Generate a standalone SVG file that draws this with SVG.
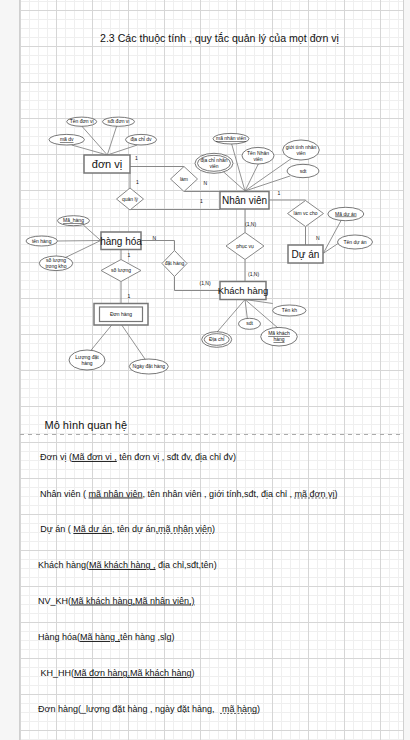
<svg xmlns="http://www.w3.org/2000/svg" width="410" height="740" viewBox="0 0 410 740">
<defs>
<pattern id="grid" patternUnits="userSpaceOnUse" x="20" y="10" width="36" height="36">
<rect x="0" y="0" width="36" height="36" fill="#ffffff"/>
<rect x="9" y="0" width="1" height="36" fill="#efefef"/>
<rect x="18" y="0" width="1" height="36" fill="#efefef"/>
<rect x="27" y="0" width="1" height="36" fill="#efefef"/>
<rect x="0" y="9" width="36" height="1" fill="#efefef"/>
<rect x="0" y="18" width="36" height="1" fill="#efefef"/>
<rect x="0" y="27" width="36" height="1" fill="#efefef"/>
<rect x="0" y="0" width="1" height="36" fill="#d6d6d6"/>
<rect x="0" y="0" width="36" height="1" fill="#d6d6d6"/>
</pattern>
<style>
text{font-family:"Liberation Sans",Arial,sans-serif;fill:#111}
.ent{fill:#fff;stroke:#777;stroke-width:1.5}
.rel{fill:#fff;stroke:#888;stroke-width:1}
.att{fill:#fff;stroke:#555;stroke-width:0.8}
.ln{fill:none;stroke:#888;stroke-width:1}
.al{fill:none;stroke:#777;stroke-width:0.8}
.et{font-size:10px;text-anchor:middle}
.st{font-size:5px;text-anchor:middle}
.ct{font-size:5px}
.rt{font-size:9px}
.u{text-decoration:underline}
.dl{stroke:#444;stroke-width:0.8;stroke-dasharray:2 1.5}
</style>
</defs>
<rect x="0" y="0" width="410" height="740" fill="#f6f6f6"/>
<rect x="20" y="0" width="383" height="740" fill="url(#grid)"/>
<line x1="19.5" y1="0" x2="19.5" y2="740" stroke="#d0d0d0"/>
<line x1="403.5" y1="0" x2="403.5" y2="740" stroke="#d0d0d0"/>

<text x="100" y="42" style="font-size:10.6px">2.3 Các thuộc tính , quy tắc quản lý của mọt đơn vị</text>

<g id="connectors">
<polyline class="ln" points="130,166.5 184,166.5"/>
<polyline class="ln" points="184,191.5 220,191.5"/>
<polyline class="ln" points="130,173 130,188"/>
<polyline class="ln" points="130,210 130,209.5 220,209.5"/>
<polyline class="ln" points="141,240.5 174.5,240.5 174.5,250.5"/>
<polyline class="ln" points="174.5,276.5 174.5,290.5 220,290.5"/>
<polyline class="ln" points="121,249.5 121,259.5"/>
<polyline class="ln" points="121,281.5 121,303.5"/>
<polyline class="ln" points="269,200 305.5,200 305.5,200.5"/>
<polyline class="ln" points="305.5,226.5 305.5,245"/>
<polyline class="ln" points="245,209 245,232.5"/>
<polyline class="ln" points="245,259.5 245,281.5"/>
<line class="al" x1="81.7" y1="126" x2="107.3" y2="155"/>
<line class="al" x1="116.7" y1="126" x2="107.3" y2="155"/>
<line class="al" x1="71.7" y1="145" x2="107.3" y2="155"/>
<line class="al" x1="137.3" y1="145" x2="107.3" y2="155"/>
<line class="al" x1="231.7" y1="144" x2="245" y2="191"/>
<line class="al" x1="258.3" y1="164" x2="245" y2="191"/>
<line class="al" x1="291.7" y1="158.3" x2="245" y2="191"/>
<line class="al" x1="290" y1="176" x2="245" y2="191"/>
<line class="al" x1="223.3" y1="171.7" x2="245" y2="191"/>
<line class="al" x1="83.3" y1="225" x2="100.7" y2="240.5"/>
<line class="al" x1="57.3" y1="241" x2="100.7" y2="240.5"/>
<line class="al" x1="61.7" y1="259.3" x2="100.7" y2="240.5"/>
<line class="al" x1="341.7" y1="219.3" x2="323.3" y2="253.3"/>
<line class="al" x1="338.3" y1="243.3" x2="323.3" y2="253.3"/>
<line class="al" x1="272.7" y1="303.5" x2="245" y2="299.5"/>
<line class="al" x1="247.3" y1="318.3" x2="245" y2="299.5"/>
<line class="al" x1="278.3" y1="328.3" x2="245" y2="299.5"/>
<line class="al" x1="216.7" y1="332.5" x2="245" y2="299.5"/>
<line class="al" x1="111.7" y1="325" x2="90" y2="351.5"/>
<line class="al" x1="121.7" y1="325" x2="146.7" y2="361.5"/>
</g>

<g id="cardinalities">
<text class="ct" x="135" y="159.5">1</text>
<text class="ct" x="136" y="184">1</text>
<text class="ct" x="203.5" y="184.5">N</text>
<text class="ct" x="200" y="202.5">1</text>
<text class="ct" x="277.5" y="194.5">1</text>
<text class="ct" x="152.5" y="240">N</text>
<text class="ct" x="127.5" y="257">1</text>
<text class="ct" x="127.5" y="298">1</text>
<text class="ct" x="199.5" y="284.5">(1,N)</text>
<text class="ct" x="245" y="225.5">(1,N)</text>
<text class="ct" x="248" y="275.5">(1,N)</text>
<text class="ct" x="316" y="239.5">N</text>
</g>

<g id="don-vi"><rect class="ent" x="84" y="155" width="46" height="18"/><text class="et" x="107" y="168" style="font-size:11px">đơn vị</text></g>
<g id="nhan-vien"><rect class="ent" x="220" y="191.5" width="49" height="17.5"/><text class="et" x="244.5" y="204">Nhân viên</text></g>
<g id="hang-hoa"><rect class="ent" x="101" y="232" width="40" height="17.5"/><text class="et" x="121" y="244.5">hàng hóa</text></g>
<g id="du-an"><rect class="ent" x="288" y="245" width="35" height="18"/><text class="et" x="305.5" y="257.5">Dự án</text></g>
<g id="khach-hang"><rect class="ent" x="220" y="281.5" width="46" height="18"/><text class="et" x="243" y="294" style="font-size:9.5px">Khách hàng</text></g>
<g id="don-hang"><rect class="ent" x="94" y="303.5" width="54" height="21.5"/><rect class="ent" x="99.5" y="307" width="43" height="14.5" style="stroke-width:1.2"/><text class="st" x="121" y="316">Đơn hàng</text></g>

<g id="lam"><polygon class="rel" points="184,166.5 197.5,179 184,191.5 170.5,179"/><text class="st" x="184" y="180.5">làm</text></g>
<g id="quan-ly"><polygon class="rel" points="130,188 143.5,199 130,210 116.5,199"/><text class="st" x="130" y="200.5">quản lý</text></g>
<g id="so-luong"><polygon class="rel" points="121,259.5 141,270.5 121,281.5 101,270.5"/><text class="st" x="121" y="272">số lượng</text></g>
<g id="dat-hang"><polygon class="rel" points="174.5,250.5 187,263.5 174.5,276.5 162,263.5"/><text class="st" x="174.5" y="265">đặt hàng</text></g>
<g id="lam-vc-cho"><polygon class="rel" points="305.5,200.5 323.5,213.5 305.5,226.5 287.5,213.5"/><text class="st" x="305.5" y="215">làm vc cho</text></g>
<g id="phuc-vu"><polygon class="rel" points="245,232.5 264,246 245,259.5 226,246"/><text class="st" x="245" y="247.5">phục vụ</text></g>

<g id="ten-don-vi"><ellipse class="att" cx="81.7" cy="121.7" rx="15" ry="4.6"/><text class="st" x="81.7" y="123.3">Tên đơn vị</text></g>
<g id="sdt-don-vi"><ellipse class="att" cx="118.5" cy="121.7" rx="16" ry="4.6"/><text class="st" x="118.5" y="123.3">sđt đơn vị</text></g>
<g id="ma-dv"><ellipse class="att" cx="66.7" cy="139.7" rx="17.7" ry="5.3"/><text class="st u" x="66.7" y="141.3">mã dv</text></g>
<g id="dia-chi-dv"><ellipse class="att" cx="141" cy="139.7" rx="15.5" ry="5.3"/><text class="st" x="141" y="141.3">địa chỉ dv</text></g>

<g id="ma-nhan-vien"><ellipse class="att" cx="231" cy="138.7" rx="18" ry="5.3"/><text class="st u" x="231" y="140.3">mã nhân viên</text></g>
<g id="ten-nhan-vien"><ellipse class="att" cx="258" cy="155.7" rx="16" ry="8.3"/><text class="st" x="258" y="154.5">Tên Nhân</text><text class="st" x="258" y="160.5">viên</text></g>
<g id="gioi-tinh"><ellipse class="att" cx="301" cy="150" rx="18.3" ry="10"/><text class="st" x="301" y="148.5">giới tính nhân</text><text class="st" x="301" y="154.5">viên</text></g>
<g id="sdt-nv"><ellipse class="att" cx="303" cy="171" rx="16" ry="6.7"/><text class="st" x="303" y="172.5">sdt</text></g>
<g id="dia-chi-nv"><ellipse class="att" cx="214" cy="163.3" rx="19" ry="10"/><ellipse class="att" cx="214" cy="163.3" rx="16.5" ry="8"/><text class="st" x="214" y="161.8">địa chỉ nhân</text><text class="st" x="214" y="167.8">viên</text></g>

<g id="ma-hang"><ellipse class="att" cx="73.5" cy="220.7" rx="16" ry="5"/><text class="st u" x="73.5" y="222.3">Mã_hàng</text></g>
<g id="ten-hang"><ellipse class="att" cx="41.7" cy="241" rx="15.7" ry="5"/><text class="st" x="41.7" y="242.6">tên hàng</text></g>
<g id="so-luong-kho"><ellipse class="att" cx="56" cy="263.3" rx="16.7" ry="7.3"/><text class="st" x="56" y="262">số lượng</text><text class="st" x="56" y="268">trong kho</text></g>

<g id="ma-du-an"><ellipse class="att" cx="345.8" cy="214" rx="18" ry="6.7"/><text class="st u" x="345.8" y="215.6">Mã dự án</text></g>
<g id="ten-du-an"><ellipse class="att" cx="355" cy="242" rx="17.5" ry="7"/><text class="st" x="355" y="243.6">Tên dự án</text></g>

<g id="ten-kh"><ellipse class="att" cx="289.3" cy="310.5" rx="16.7" ry="5.5"/><text class="st" x="289.3" y="312.1">Tên kh</text></g>
<g id="sdt-kh"><ellipse class="att" cx="249.5" cy="323.8" rx="11" ry="5.5"/><text class="st" x="249.5" y="325.4">sdt</text></g>
<g id="ma-khach-hang"><ellipse class="att" cx="279" cy="336.7" rx="18.3" ry="9.3"/><text class="st u" x="279" y="335.3">Mã khách</text><text class="st u" x="279" y="341.3">hàng</text></g>
<g id="dia-chi-kh"><ellipse class="att" cx="216.7" cy="339.5" rx="15" ry="7.8"/><ellipse class="att" cx="216.7" cy="339.5" rx="12.5" ry="5.8"/><text class="st" x="216.7" y="341.1">Địa chỉ</text></g>

<g id="luong-dat-hang"><ellipse class="att" cx="87" cy="360" rx="18" ry="10"/><text class="st" x="87" y="358.5">Lượng đặt</text><text class="st" x="87" y="364.5">hàng</text></g>
<g id="ngay-dat-hang"><ellipse class="att" cx="148.8" cy="366.5" rx="19.5" ry="7.5"/><text class="st" x="148.8" y="368.1">Ngày đặt hàng</text></g>

<g id="relational-model">
<text x="44.5" y="428.5" style="font-size:11px">Mô hình quan hệ</text>
<line x1="20" y1="434.5" x2="403" y2="434.5" stroke="#aaa" stroke-dasharray="4 4"/>
<text class="rt" x="40" y="460">Đơn vị (<tspan class="u">Mã đơn vị ,</tspan> tên đơn vị , sđt đv, địa chỉ đv)</text>
<text class="rt" x="40" y="496.5">Nhân viên ( <tspan class="u">mã nhân viên</tspan>, tên nhân viên , giới tính,sđt, địa chỉ , mã đơn vị)</text>
<text class="rt" x="40.3" y="532">Dự án ( <tspan class="u">Mã dự án</tspan>, tên dự án,mã nhân viên)</text>
<text class="rt" x="38" y="568">Khách hàng(<tspan class="u">Mã khách hàng ,</tspan> địa chỉ,sđt,tên)</text>
<text class="rt" x="38" y="603.5">NV_KH(<tspan class="u">Mã khách hàng,Mã nhân viên,)</tspan></text>
<text class="rt" x="38" y="640">Hàng hóa(<tspan class="u">Mã hàng ,</tspan>tên hàng ,slg)</text>
<text class="rt" x="38" y="676" xml:space="preserve"> KH_HH(<tspan class="u">Mã đơn hàng,Mã khách hàng</tspan>)</text>
<text class="rt" x="38" y="712" xml:space="preserve">Đơn hàng(_lượng đặt hàng , ngày đặt hàng,   mã hàng)</text>
<line class="dl" x1="294" y1="498" x2="337" y2="498"/>
<line class="dl" x1="156.5" y1="533.5" x2="213" y2="533.5"/>
<line class="dl" x1="220" y1="713.5" x2="256.5" y2="713.5"/>
</g>
</svg>
